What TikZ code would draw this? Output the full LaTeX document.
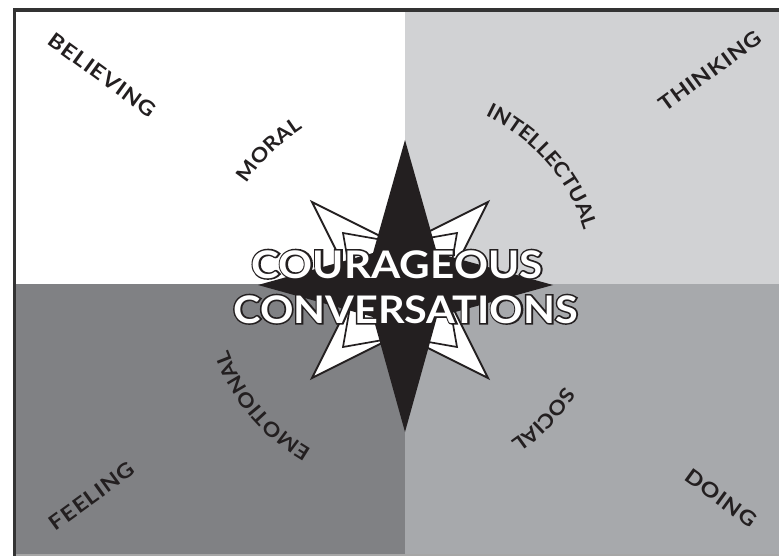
\documentclass[tikz,border=0pt]{standalone}
\usepackage{fontspec}
\setmainfont{Lato}
\usetikzlibrary{decorations.text}
\definecolor{qTR}{RGB}{209,210,212}
\definecolor{qBL}{RGB}{128,129,132}
\definecolor{qBR}{RGB}{167,169,172}
\definecolor{ink}{RGB}{35,31,32}
\newfontfamily\wideLato{Lato}[FakeStretch=1.15, LetterSpace=4]
\newfontfamily\arcLato{Lato}[FakeStretch=1.1]
\newcommand\labsize{\wideLato\bfseries\fontsize{20.5}{21}\selectfont}
\newcommand\arcsize{\arcLato\bfseries\fontsize{20}{21}\selectfont}
\newcommand\ttlfont{\bfseries\fontsize{38}{38}\selectfont}
\newcommand\ttlfontb{\bfseries\fontsize{38}{38}\selectfont\addfontfeatures{FakeBold=8}}
\begin{document}
\begin{tikzpicture}[x=1pt,y=1pt,
  lab/.style={font=\labsize, text=ink, inner sep=0pt},
  ttl/.style={font=\ttlfont, inner sep=0pt, anchor=base, text=white},
  ttlo/.style={font=\ttlfontb, inner sep=0pt, anchor=base, text=ink},
  arclab/.style={decorate, decoration={text along path, text align=center, text color=ink, text={|\arcsize|#1}}},
  starline/.style={draw=ink, fill=white, line width=2pt, line join=miter},
]
\useasboundingbox (0,0) rectangle (779,-556);
\fill[white] (0,0) rectangle (779,-556);
% quadrants
\fill[white] (14.5,-9.5) rectangle (405,-284);
\fill[qTR] (405,-9.5) rectangle (779,-284);
\fill[qBL] (14.5,-284) rectangle (405,-554);
\fill[qBR] (405,-284) rectangle (779,-554);
\fill[black!35] (14.5,-554) rectangle (779,-556);
% frame
\draw[line width=3.6pt, color=black!80] (14.5,-556) -- (14.5,-9.8) -- (779,-9.8);
% diagonal hollow star
\path[starline] (312,-202) -- (400,-246) -- (488,-202) -- (444,-290) -- (488,-378) -- (400,-334) -- (312,-378) -- (356,-290) -- cycle;
\path[draw=ink, line width=1.7pt] (343,-233) -- (400,-243) -- (457,-233) -- (447,-290) -- (457,-347) -- (400,-337) -- (343,-347) -- (353,-290) -- cycle;
% black compass star
\fill[ink] (405,-140) -- (437,-253) -- (553,-285) -- (437,-317) -- (405,-432) -- (373,-317) -- (258,-285) -- (373,-253) -- cycle;
% title, outlined
\node[ttlo, xscale=1.11] (title1o) at (397,-278) {COURAGEOUS};
\node[ttlo, xscale=1.09] (title2o) at (405.5,-323) {CONVERSATIONS};
\node[ttl, xscale=1.11] (title1) at (397,-278) {COURAGEOUS};
\node[ttl, xscale=1.09] (title2) at (405.5,-323) {CONVERSATIONS};
% outer labels
\node[lab, rotate=-36] (believing) at (102.5,-75) {BELIEVING};
\node[lab, rotate=36] (thinking) at (710,-71) {THINKING};
\node[lab, rotate=36] (feeling) at (92,-496) {FEELING};
\node[lab, rotate=-36] (doing) at (721,-498) {DOING};
% inner arc labels
\path[arclab=MORAL] ([shift={(195:188)}]405,-286) arc[start angle=195, end angle=75, radius=188];
\path[arclab=INTELLECTUAL] ([shift={(101:188)}]405,-286) arc[start angle=101, end angle=-19, radius=188];
\path[arclab=EMOTIONAL] ([shift={(280:188)}]405,-286) arc[start angle=280, end angle=160, radius=188];
\path[arclab=SOCIAL] ([shift={(16:188)}]405,-286) arc[start angle=16, end angle=-104, radius=188];
\end{tikzpicture}
\end{document}
